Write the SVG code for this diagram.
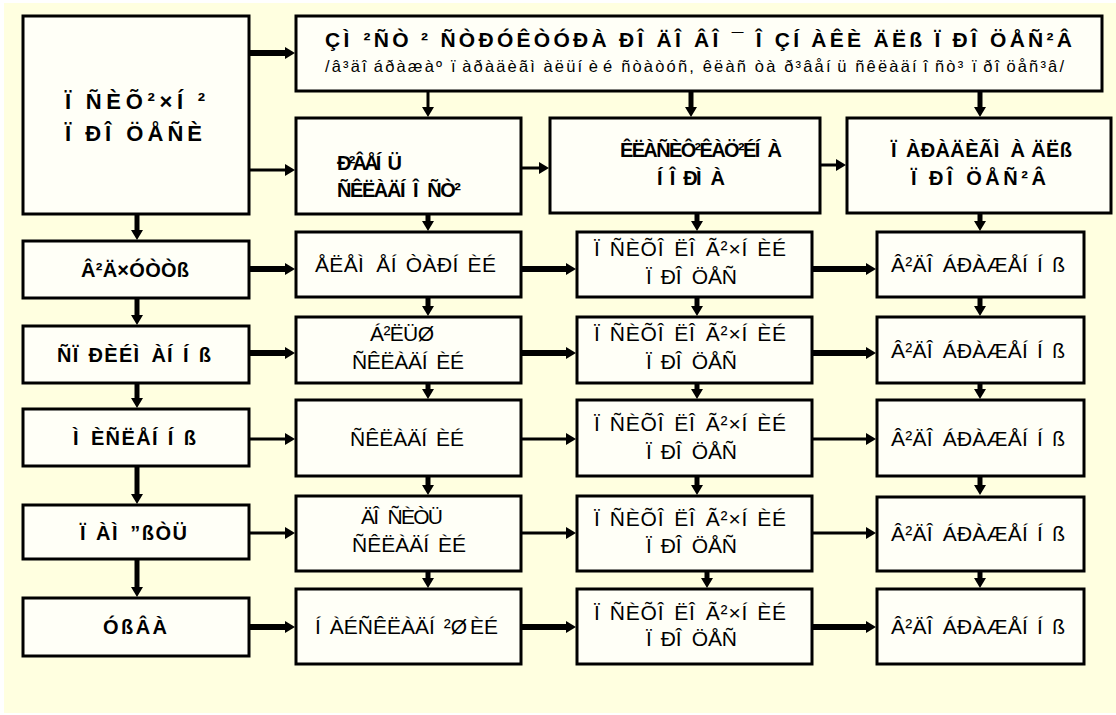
<svg xmlns="http://www.w3.org/2000/svg" width="1116" height="715" viewBox="0 0 1116 715">
<style>
.box{fill:#FFFFF7;stroke:#000;stroke-width:3}
.b{font-family:"Liberation Sans",Arial,sans-serif;font-weight:bold;fill:#000}
.r{font-family:"Liberation Sans",Arial,sans-serif;fill:#000}
.thick{stroke:#000;stroke-width:6;fill:none}
.thin{stroke:#000;stroke-width:3;fill:none}
.vert{stroke:#000;stroke-width:5;fill:none}
</style>
<defs>
<marker id="ah" viewBox="0 0 10 12" markerUnits="userSpaceOnUse" markerWidth="10" markerHeight="12" refX="0" refY="6" orient="auto">
<path d="M0,0 L10,6 L0,12 Z" fill="#000"/>
</marker>
</defs>
<rect x="4" y="3" width="1112" height="710" fill="#FFFFE0"/>

<g id="connectors" marker-end="url(#ah)">
<line class="thick" x1="249" y1="53" x2="285" y2="53"/>
<line class="thin" x1="249" y1="170" x2="285" y2="170"/>
<line class="thin" x1="521" y1="168" x2="539" y2="168"/>
<line class="thin" x1="820" y1="165" x2="836" y2="165"/>
<line class="thick" x1="249" y1="269" x2="285" y2="269"/>
<line class="thick" x1="521" y1="269" x2="566" y2="269"/>
<line class="thick" x1="812" y1="269" x2="866" y2="269"/>
<line class="thick" x1="249" y1="353" x2="285" y2="353"/>
<line class="thick" x1="521" y1="353" x2="566" y2="353"/>
<line class="thick" x1="812" y1="353" x2="866" y2="353"/>
<line class="thin" x1="249" y1="439" x2="285" y2="439"/>
<line class="thin" x1="521" y1="439" x2="566" y2="439"/>
<line class="thin" x1="812" y1="439" x2="866" y2="439"/>
<line class="thin" x1="249" y1="533" x2="285" y2="533"/>
<line class="thin" x1="521" y1="533" x2="566" y2="533"/>
<line class="thin" x1="812" y1="533" x2="866" y2="533"/>
<line class="thick" x1="249" y1="627" x2="285" y2="627"/>
<line class="thick" x1="521" y1="627" x2="566" y2="627"/>
<line class="thick" x1="812" y1="627" x2="866" y2="627"/>
<line class="vert" x1="137" y1="214" x2="137" y2="230"/>
<line class="vert" x1="137" y1="298" x2="137" y2="315"/>
<line class="vert" x1="137" y1="383" x2="137" y2="398"/>
<line class="vert" x1="137" y1="466" x2="137" y2="494"/>
<line class="vert" x1="137" y1="559" x2="137" y2="587"/>
<line class="thin" x1="428" y1="91" x2="428" y2="107"/>
<line class="vert" x1="428" y1="214" x2="428" y2="221"/>
<line class="vert" x1="428" y1="297" x2="428" y2="306"/>
<line class="vert" x1="428" y1="383" x2="428" y2="389"/>
<line class="vert" x1="428" y1="476" x2="428" y2="485"/>
<line class="vert" x1="428" y1="571" x2="428" y2="578"/>
<line class="vert" x1="691" y1="91" x2="691" y2="107"/>
<line class="vert" x1="697" y1="213" x2="697" y2="221"/>
<line class="vert" x1="697" y1="297" x2="697" y2="306"/>
<line class="vert" x1="697" y1="383" x2="697" y2="389"/>
<line class="vert" x1="697" y1="476" x2="697" y2="485"/>
<line class="vert" x1="707" y1="571" x2="707" y2="578"/>
<line class="vert" x1="980" y1="91" x2="980" y2="107"/>
<line class="vert" x1="980" y1="213" x2="980" y2="221"/>
<line class="vert" x1="980" y1="297" x2="980" y2="306"/>
<line class="vert" x1="980" y1="383" x2="980" y2="389"/>
<line class="vert" x1="980" y1="476" x2="980" y2="485"/>
<line class="vert" x1="980" y1="571" x2="980" y2="578"/>
</g>

<g id="n-psychic">
<rect class="box" x="23" y="16" width="226" height="198"/>
<text class="b" font-size="22" x="65" y="109" dx="0 10 0 0 0 0 0 10" textLength="140" lengthAdjust="spacing">ÏÑÈÕ²×Í²</text>
<text class="b" font-size="22" x="65" y="141" dx="0 10 0 11" textLength="137" lengthAdjust="spacing">ÏÐÎÖÅÑÈ</text>
</g>
<g id="n-title">
<rect class="box" x="296" y="16" width="806" height="75"/>
<text class="b" font-size="21" x="325" y="47" dx="0 0 11 0 0 0 0 0 0 0 0 0 0 0 0 0 0 0 0 0 10 0 10 0 10 0 0 10 0 9 0 0 0 0 0 0 0 0 9 0 10" textLength="747" lengthAdjust="spacing">ÇÌ²ÑÒ ² ÑÒÐÓÊÒÓÐÀ ÐÎÄÎÂÎ¯ ÎÇÍÀÊÈ ÄËß ÏÐÎÖÅÑ²Â</text>
<text class="r" font-size="16.5" x="325" y="72" dx="0 0 0 0 0 5 0 0 0 0 0 0 0 4.5 0 0 0 0 0 0 6.5 0 0 0 4.5 3 0 0 0 0 0 0 0 0 0 0 0 0 0 0 0 0 0 0 0 0 0 0 4.5 0 0 0 0 0 0 0 4.5 5 0 0 0 0 4.5 0 5" textLength="739" lengthAdjust="spacing">/â³äîáðàæàº ïàðàäèãìàëüíèé ñòàòóñ, êëàñ òà ð³âåíü ñêëàäíîñò³ ïðîöåñ³â/</text>
</g>
<g id="n-level">
<rect class="box" x="296" y="118" width="225" height="96"/>
<text class="b" font-size="20" x="337" y="170" dx="0 0 0 0 0 9" textLength="65" lengthAdjust="spacing">Ð²ÂÅÍÜ</text>
<text class="b" font-size="20" x="337" y="197" dx="0 0 0 0 0 0 9 10" textLength="124" lengthAdjust="spacing">ÑÊËÀÄÍÎÑÒ²</text>
</g>
<g id="n-class">
<rect class="box" x="550" y="118" width="270" height="95"/>
<text class="b" font-size="20" x="620" y="157" dx="0 0 0 0 0 0 0 0 0 0 0 0 0 9" textLength="162" lengthAdjust="spacing">ÊËÀÑÈÔ²ÊÀÖ²ÉÍÀ</text>
<text class="b" font-size="20" x="657" y="185" dx="0 9 10 0 11" textLength="68" lengthAdjust="spacing">ÍÎÐÌÀ</text>
</g>
<g id="n-paradigm">
<rect class="box" x="847" y="118" width="264" height="95"/>
<text class="b" font-size="20" x="891" y="157" dx="0 9 0 0 0 0 0 0 11" textLength="181" lengthAdjust="spacing">ÏÀÐÀÄÈÃÌÀ ÄËß</text>
<text class="b" font-size="20" x="911" y="185" dx="0 9 0 10" textLength="135" lengthAdjust="spacing">ÏÐÎÖÅÑ²Â</text>
</g>

<g id="n-l1">
<rect class="box" x="23" y="241" width="226" height="57"/>
<text class="b" font-size="20" x="81" y="277" textLength="108" lengthAdjust="spacing">Â²Ä×ÓÒÒß</text>
</g>
<g id="n-l2">
<rect class="box" x="23" y="326" width="226" height="57"/>
<text class="b" font-size="20" x="57" y="362" dx="0 0 9 0 0 0 11 0 9 9" textLength="154" lengthAdjust="spacing">ÑÏÐÈÉÌÀÍÍß</text>
</g>
<g id="n-l3">
<rect class="box" x="23" y="409" width="226" height="57"/>
<text class="b" font-size="20" x="73" y="445" dx="0 11 0 0 0 0 9 9" textLength="123" lengthAdjust="spacing">ÌÈÑËÅÍÍß</text>
</g>
<g id="n-l4">
<rect class="box" x="23" y="505" width="226" height="54"/>
<text class="b" font-size="20" x="80" y="540" dx="0 9 0 11" textLength="107" lengthAdjust="spacing">ÏÀÌ”ßÒÜ</text>
</g>
<g id="n-l5">
<rect class="box" x="23" y="598" width="226" height="58"/>
<text class="b" font-size="20" x="103" y="634" textLength="64" lengthAdjust="spacing">ÓßÂÀ</text>
</g>

<g id="n-m1">
<rect class="box" x="296" y="232" width="225" height="65"/>
<text class="r" font-size="21" x="315" y="272" dx="0 0 0 0 12 0 9 0 0 0 9" textLength="181" lengthAdjust="spacing">ÅËÅÌÅÍÒÀÐÍÈÉ</text>
</g>
<g id="n-m2">
<rect class="box" x="296" y="317" width="225" height="66"/>
<text class="r" font-size="21" x="370" y="341" textLength="64" lengthAdjust="spacing">Á²ËÜØ</text>
<text class="r" font-size="21" x="352" y="369" dx="0 0 0 0 0 0 9" textLength="112" lengthAdjust="spacing">ÑÊËÀÄÍÈÉ</text>
</g>
<g id="n-m3">
<rect class="box" x="296" y="400" width="225" height="76"/>
<text class="r" font-size="21" x="350" y="446" dx="0 0 0 0 0 0 9" textLength="114" lengthAdjust="spacing">ÑÊËÀÄÍÈÉ</text>
</g>
<g id="n-m4">
<rect class="box" x="296" y="496" width="225" height="75"/>
<text class="r" font-size="21" x="361" y="524" dx="0 0 10" textLength="82" lengthAdjust="spacing">ÄÎÑÈÒÜ</text>
<text class="r" font-size="21" x="352" y="552" dx="0 0 0 0 0 0 9" textLength="114" lengthAdjust="spacing">ÑÊËÀÄÍÈÉ</text>
</g>
<g id="n-m5">
<rect class="box" x="296" y="589" width="225" height="75"/>
<text class="r" font-size="21" x="315" y="634" dx="0 9 0 0 0 0 0 0 0 9 0 3" textLength="183" lengthAdjust="spacing">ÍÀÉÑÊËÀÄÍ²ØÈÉ</text>
</g>

<g id="n-p1">
<rect class="box" x="577" y="232" width="235" height="65"/>
<text class="r" font-size="21" x="594" y="256" dx="0 9 0 0 0 10 0 10 0 0 0 9" textLength="192" lengthAdjust="spacing">ÏÑÈÕÎËÎÃ²×ÍÈÉ</text>
<text class="r" font-size="21" x="646" y="284" dx="0 9 0 10" textLength="91" lengthAdjust="spacing">ÏÐÎÖÅÑ</text>
</g>
<g id="n-p2">
<rect class="box" x="577" y="317" width="235" height="66"/>
<text class="r" font-size="21" x="594" y="341" dx="0 9 0 0 0 10 0 10 0 0 0 9" textLength="192" lengthAdjust="spacing">ÏÑÈÕÎËÎÃ²×ÍÈÉ</text>
<text class="r" font-size="21" x="646" y="369" dx="0 9 0 10" textLength="91" lengthAdjust="spacing">ÏÐÎÖÅÑ</text>
</g>
<g id="n-p3">
<rect class="box" x="577" y="400" width="235" height="76"/>
<text class="r" font-size="21" x="594" y="431" dx="0 9 0 0 0 10 0 10 0 0 0 9" textLength="192" lengthAdjust="spacing">ÏÑÈÕÎËÎÃ²×ÍÈÉ</text>
<text class="r" font-size="21" x="646" y="459" dx="0 9 0 10" textLength="91" lengthAdjust="spacing">ÏÐÎÖÅÑ</text>
</g>
<g id="n-p4">
<rect class="box" x="577" y="496" width="235" height="75"/>
<text class="r" font-size="21" x="594" y="526" dx="0 9 0 0 0 10 0 10 0 0 0 9" textLength="192" lengthAdjust="spacing">ÏÑÈÕÎËÎÃ²×ÍÈÉ</text>
<text class="r" font-size="21" x="646" y="553" dx="0 9 0 10" textLength="91" lengthAdjust="spacing">ÏÐÎÖÅÑ</text>
</g>
<g id="n-p5">
<rect class="box" x="577" y="589" width="235" height="75"/>
<text class="r" font-size="21" x="594" y="620" dx="0 9 0 0 0 10 0 10 0 0 0 9" textLength="192" lengthAdjust="spacing">ÏÑÈÕÎËÎÃ²×ÍÈÉ</text>
<text class="r" font-size="21" x="646" y="646" dx="0 9 0 10" textLength="91" lengthAdjust="spacing">ÏÐÎÖÅÑ</text>
</g>

<g id="n-r1">
<rect class="box" x="877" y="232" width="207" height="65"/>
<text class="r" font-size="21" x="891" y="272" dx="0 0 0 0 10 0 0 0 0 0 9 9" textLength="174" lengthAdjust="spacing">Â²ÄÎÁÐÀÆÅÍÍß</text>
</g>
<g id="n-r2">
<rect class="box" x="877" y="317" width="207" height="66"/>
<text class="r" font-size="21" x="891" y="358" dx="0 0 0 0 10 0 0 0 0 0 9 9" textLength="174" lengthAdjust="spacing">Â²ÄÎÁÐÀÆÅÍÍß</text>
</g>
<g id="n-r3">
<rect class="box" x="877" y="400" width="207" height="76"/>
<text class="r" font-size="21" x="891" y="446" dx="0 0 0 0 10 0 0 0 0 0 9 9" textLength="174" lengthAdjust="spacing">Â²ÄÎÁÐÀÆÅÍÍß</text>
</g>
<g id="n-r4">
<rect class="box" x="877" y="497" width="207" height="74"/>
<text class="r" font-size="21" x="891" y="541" dx="0 0 0 0 10 0 0 0 0 0 9 9" textLength="174" lengthAdjust="spacing">Â²ÄÎÁÐÀÆÅÍÍß</text>
</g>
<g id="n-r5">
<rect class="box" x="877" y="589" width="207" height="75"/>
<text class="r" font-size="21" x="891" y="634" dx="0 0 0 0 10 0 0 0 0 0 9 9" textLength="174" lengthAdjust="spacing">Â²ÄÎÁÐÀÆÅÍÍß</text>
</g>
</svg>
